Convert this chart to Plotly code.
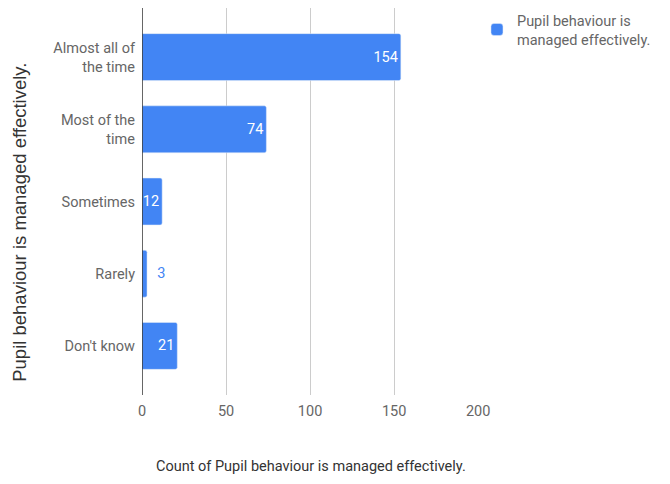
import plotly.graph_objects as go

categories = ["Almost all of<br>the time", "Most of the<br>time", "Sometimes", "Rarely", "Don't know"]
counts = [154, 74, 12, 3, 21]
x_ticks = [0, 50, 100, 150, 200]
series_name = "Pupil behaviour is<br>managed effectively."

blue = "#4285F4"
positions = ["inside", "inside", "inside", "outside", "inside"]
text_colors = ["white", "white", "white", blue, "white"]

fig = go.Figure()
fig.add_trace(go.Bar(
    y=categories,
    x=counts,
    orientation="h",
    name=series_name,
    marker=dict(color=blue, cornerradius=2),
    width=0.65,
    text=[str(c) if p == "inside" else "  " + str(c) for c, p in zip(counts, positions)],
    textposition=positions,
    insidetextanchor="end",
    textfont=dict(family="Roboto", size=14.5, color=text_colors),
    cliponaxis=False,
    showlegend=True,
))

# page body has an 8px margin, so the figure is 8px smaller than the window
fig.update_layout(
    width=662, height=476,
    margin=dict(l=134, r=191, t=0, b=89, autoexpand=False),
    plot_bgcolor="white", paper_bgcolor="white",
    font=dict(family="Roboto", size=14.5, color="#555555"),
    uniformtext=dict(minsize=14, mode="show"),
    legend=dict(x=0.994, y=1.01, xanchor="left", yanchor="top",
                font=dict(family="Roboto", size=14.5, color="#666666"),
                itemwidth=30, bgcolor="rgba(0,0,0,0)"),
)
fig.update_xaxes(
    range=[0, 200.5], tickvals=x_ticks, showgrid=True, gridcolor="#cccccc",
    zeroline=False, showline=False, ticks="", ticklabelstandoff=5,
    tickfont=dict(size=14.5, color="#666666"),
)
fig.update_yaxes(
    autorange=False, range=[4.68, -0.68], showgrid=False, zeroline=False,
    showline=False, ticks="", ticklabelstandoff=6, tickfont=dict(size=14.5, color="#666666"),
)
# axis line at zero
fig.add_shape(type="line", xref="x", yref="paper", x0=0, x1=0, y0=0, y1=1,
              line=dict(color="#333333", width=1.5))

fig.add_annotation(text="Pupil behaviour is managed effectively.", xref="paper", yref="paper",
                   x=-0.362, y=0.445, xanchor="center", yanchor="middle",
                   textangle=-90, showarrow=False,
                   font=dict(family="Liberation Sans", size=18.5, color="#333333"))
fig.add_annotation(text="Count of Pupil behaviour is managed effectively.", xref="paper", yref="paper",
                   x=0.5, y=-0.186, xanchor="center", yanchor="middle", showarrow=False,
                   font=dict(family="Roboto", size=14.5, color="#333333"))

fig.write_html("out.html")
